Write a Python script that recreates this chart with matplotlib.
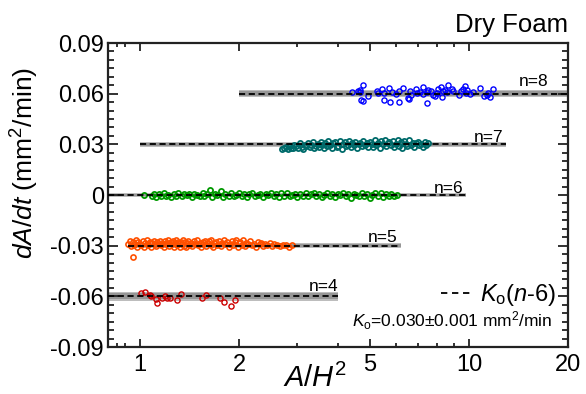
import matplotlib
matplotlib.use("Agg")
import matplotlib.pyplot as plt
from matplotlib.lines import Line2D
from matplotlib.ticker import FixedLocator, NullFormatter

plt.rcParams['font.family'] = ['Liberation Sans', 'DejaVu Sans']
plt.rcParams['mathtext.fontset'] = 'custom'
plt.rcParams['mathtext.rm'] = 'Liberation Sans'
plt.rcParams['mathtext.it'] = 'Liberation Sans:italic'
plt.rcParams['mathtext.bf'] = 'Liberation Sans:bold'

# ---- data ----
K0 = 0.030
n_values = [4, 5, 6, 7, 8]
band_xmin = [0.8, 0.92, 0.8, 1.0, 2.0]
band_xmax = [4.0, 6.2, 9.8, 13.0, 20.0]
band_half = [0.0027, 0.0014, 0.0010, 0.0014, 0.0021]
label_x = [4.0, 6.05, 9.65, 12.7, 17.4]
label_dy = [0.0031, 0.0020, 0.0014, 0.0016, 0.0043]
colors = ['#cc0000', '#ff5000', '#009900', '#006b6b', '#0000ff']

# n=4 (red)
n4_x = [1.005, 1.040, 1.073, 1.078, 1.116, 1.129, 1.169, 1.191, 1.211, 1.233,
        1.298, 1.329, 1.546, 1.593, 1.748, 1.806, 1.897, 1.951]
n4_y = [-0.0580, -0.0576, -0.0590, -0.0600, -0.0616, -0.0639, -0.0610, -0.0596,
        -0.0610, -0.0610, -0.0620, -0.0584, -0.0610, -0.0594, -0.0610, -0.0633,
        -0.0655, -0.0620]

# n=5 (orange): deviations from -0.03 in units of 0.001
n5_x = [0.92, 0.93, 0.94, 0.95, 0.96, 0.97, 0.98, 0.99, 1.00, 1.01,
        1.02, 1.03, 1.04, 1.05, 1.06, 1.07, 1.08, 1.09, 1.10, 1.11,
        1.12, 1.13, 1.14, 1.15, 1.16, 1.17, 1.18, 1.19, 1.20, 1.21,
        1.22, 1.23, 1.24, 1.25, 1.26, 1.27, 1.28, 1.29, 1.30, 1.31,
        1.32, 1.33, 1.34, 1.35, 1.36, 1.37, 1.38, 1.39, 1.40, 1.41,
        1.43, 1.44, 1.46, 1.47, 1.49, 1.50, 1.52, 1.53, 1.55, 1.56,
        1.58, 1.59, 1.61, 1.62, 1.64, 1.65, 1.67, 1.68, 1.70, 1.72,
        1.74, 1.76, 1.78, 1.80, 1.82, 1.84, 1.86, 1.88, 1.90, 1.92,
        1.94, 1.96, 1.98, 2.00, 2.02, 2.04, 2.06, 2.08, 2.10, 2.13,
        2.16, 2.19, 2.22, 2.25, 2.28, 2.31, 2.34, 2.37, 2.40, 2.44,
        2.48, 2.52, 2.56, 2.61, 2.66, 2.72, 2.78, 2.84, 2.90, 0.95]
n5_dev = [1.2, 2.8, -0.4, 1.9, 0.6, 3.2, -0.8, 2.1, 1.0, 0.2,
          2.5, -0.6, 1.6, 3.4, 0.4, 2.0, -0.9, 1.3, 2.9, 0.8,
          -0.3, 2.3, 1.1, 3.0, 0.1, 1.8, -0.7, 2.6, 0.9, 1.5,
          3.3, -0.2, 2.0, 0.7, 2.7, -0.8, 1.4, 3.1, 0.3, 1.9,
          -0.5, 2.4, 1.2, 3.5, 0.0, 2.2, -0.9, 1.6, 2.9, 0.5,
          1.8, -0.4, 2.6, 1.0, 3.2, 0.2, 1.7, -0.7, 2.3, 0.9,
          3.0, -0.1, 1.5, 2.5, 0.4, 3.4, -0.6, 1.3, 2.1, 0.6,
          2.8, -0.3, 1.6, 3.3, 0.8, 2.0, -0.8, 1.1, 2.7, 0.2,
          1.9, 3.1, -0.5, 1.4, 2.4, 0.5, 3.5, -0.2, 1.8, 0.9,
          2.6, 0.1, 1.2, -0.6, 2.2, 0.7, 1.6, -0.3, 1.0, 0.4,
          1.5, -0.4, 0.8, 0.3, -0.2, 0.6, 0.1, -0.5, 0.4, -6.9]

# n=6 (green): deviations from 0 in units of 0.001
n6_x = [1.03, 1.09, 1.10, 1.12, 1.14, 1.16, 1.18, 1.20, 1.22, 1.24,
        1.27, 1.29, 1.31, 1.34, 1.36, 1.39, 1.41, 1.44, 1.46, 1.49,
        1.52, 1.55, 1.57, 1.60, 1.63, 1.66, 1.69, 1.72, 1.76, 1.79,
        1.82, 1.86, 1.89, 1.93, 1.96, 2.00, 2.04, 2.07, 2.11, 2.15,
        2.19, 2.23, 2.28, 2.32, 2.36, 2.41, 2.45, 2.50, 2.55, 2.59,
        2.64, 2.69, 2.74, 2.80, 2.85, 2.90, 2.96, 3.01, 3.07, 3.13,
        3.19, 3.25, 3.31, 3.37, 3.44, 3.50, 3.57, 3.63, 3.70, 3.77,
        3.84, 3.92, 3.99, 4.07, 4.14, 4.22, 4.30, 4.38, 4.47, 4.55,
        4.64, 4.72, 4.81, 4.90, 5.00, 5.09, 5.19, 5.29, 5.39, 5.49,
        5.59, 5.70, 5.81, 5.92, 6.03]
n6_dev = [0.0, -0.6, 0.4, -0.9, 0.7, -0.3, 0.9, -0.7, 0.2, -1.0,
          0.6, -0.4, 1.0, -0.8, 0.3, -0.2, 0.8, -1.1, 0.5, 0.1,
          -0.6, 1.1, -0.3, 0.7, 2.8, -0.9, 0.4, -0.1, 2.6, -1.3,
          0.5, -0.5, 0.9, -0.8, 0.2, 1.2, -0.4, 0.6, -1.0, 0.3,
          1.0, -0.7, 0.1, 0.8, -1.2, 0.5, -0.2, 1.3, -0.6, 0.4,
          -0.9, 0.9, -0.3, 1.1, -0.7, 0.2, 0.7, -1.1, 0.5, -0.4,
          1.0, -0.8, 0.3, 1.4, -0.5, 0.6, -1.3, 0.1, 0.9, -0.6,
          0.4, -1.0, 0.8, -0.2, 1.2, -0.7, 0.3, -1.5, 0.6, 0.0,
          -0.8, 1.0, -0.4, 0.7, -1.7, 0.2, 0.9, -0.5, 1.1, -0.9,
          0.4, -0.3, 0.8, -0.6, 0.2]

# n=7 (teal): deviations from 0.03 in units of 0.001
n7_x = [2.70, 2.74, 2.78, 2.82, 2.86, 2.88, 2.92, 2.95, 2.99, 3.02,
        3.06, 3.10, 3.13, 3.17, 3.20, 3.24, 3.28, 3.31, 3.35, 3.39,
        3.43, 3.47, 3.50, 3.54, 3.58, 3.62, 3.66, 3.70, 3.74, 3.79,
        3.83, 3.87, 3.92, 3.96, 4.01, 4.05, 4.10, 4.14, 4.19, 4.23,
        4.28, 4.33, 4.38, 4.42, 4.47, 4.52, 4.57, 4.62, 4.68, 4.73,
        4.78, 4.84, 4.89, 4.95, 5.00, 5.06, 5.12, 5.17, 5.23, 5.29,
        5.35, 5.41, 5.47, 5.54, 5.60, 5.66, 5.73, 5.79, 5.86, 5.93,
        6.00, 6.07, 6.14, 6.21, 6.28, 6.35, 6.43, 6.50, 6.58, 6.66,
        6.74, 6.82, 6.90, 6.98, 7.06, 7.15, 7.24, 7.33, 7.42, 7.50]
n7_dev = [-2.8, -2.2, -1.5, -2.6, -0.8, -1.9, -2.4, -0.5, -1.2, -2.0,
          0.6, -1.4, -2.7, -0.2, -1.0, 0.9, -1.8, -0.6, 1.2, -2.3,
          -0.9, 0.4, -1.6, 1.5, -0.3, -2.1, 0.8, -1.1, 1.8, -0.4,
          -1.9, 0.5, 1.1, -1.3, -0.7, 2.0, -2.5, 0.2, 1.4, -1.0,
          -0.1, 1.9, -1.7, 0.7, -0.5, 1.6, -2.2, 0.3, 1.0, -1.2,
          2.2, -0.6, 0.9, -1.8, 1.3, 0.1, -1.4, 2.4, -0.2, 0.6,
          -2.0, 1.7, 0.0, 2.6, -1.1, 0.8, 1.5, -0.4, 2.1, -1.5,
          0.4, 2.8, -0.8, 1.2, -2.4, 1.9, 0.2, -0.9, 2.3, -0.3,
          1.0, -1.7, 0.7, 1.6, -0.6, 0.3, -1.3, 1.1, -0.2, 0.5]

# n=8 (blue)
n8_x = [4.41, 4.60, 4.65, 4.67, 4.78, 4.95, 4.71, 4.75, 5.25, 5.31,
        5.44, 5.50, 5.53, 5.70, 5.76, 5.83, 6.01, 6.15, 6.11, 6.30,
        6.51, 6.58, 6.63, 6.66, 6.91, 6.97, 7.11, 7.24, 7.27, 7.48,
        7.44, 7.53, 7.67, 7.80, 7.89, 7.99, 8.08, 8.21, 8.27, 8.36,
        8.46, 8.66, 8.56, 8.86, 8.97, 9.35, 9.44, 9.57, 9.73, 9.80,
        9.84, 10.08, 10.27, 10.80, 11.11, 11.32, 11.45, 11.59, 11.80]
n8_y = [0.0608, 0.0614, 0.0620, 0.0608, 0.0651, 0.0584, 0.0565, 0.0559, 0.0614, 0.0604,
        0.0628, 0.0565, 0.0604, 0.0633, 0.0553, 0.0608, 0.0600, 0.0549, 0.0618, 0.0635,
        0.0574, 0.0568, 0.0614, 0.0594, 0.0628, 0.0604, 0.0608, 0.0639, 0.0600, 0.0545,
        0.0608, 0.0624, 0.0614, 0.0594, 0.0584, 0.0604, 0.0628, 0.0639, 0.0578, 0.0614,
        0.0620, 0.0651, 0.0608, 0.0628, 0.0614, 0.0592, 0.0614, 0.0628, 0.0643, 0.0604,
        0.0620, 0.0600, 0.0608, 0.0632, 0.0588, 0.0594, 0.0604, 0.0580, 0.0628]

x_ticks = [1, 2, 5, 10, 20]
x_minor = [0.85, 0.9, 3, 4, 6, 7, 8, 9]
y_ticks = [-0.09, -0.06, -0.03, 0.0, 0.03, 0.06, 0.09]
y_ticklabels = ['-0.09', '-0.06', '-0.03', '0', '0.03', '0.06', '0.09']

# ---- figure ----
fig = plt.figure(figsize=(5.86, 3.94), dpi=100)
ax = fig.add_axes([108/586, 1 - 347/394, 460/586, 304/394])
ax.set_xscale('log')
ax.set_xlim(0.8, 20)
ax.set_ylim(-0.09, 0.09)

series_x = [n4_x, n5_x, n6_x, n7_x, n8_x]
series_y = [n4_y,
            [K0 * (5 - 6) + d * 1e-3 for d in n5_dev],
            [K0 * (6 - 6) + d * 1e-3 for d in n6_dev],
            [K0 * (7 - 6) + d * 1e-3 for d in n7_dev],
            n8_y]
mew = [1.0, 1.2, 1.3, 1.3, 1.0]

for i, n in enumerate(n_values):
    yc = K0 * (n - 6)
    x0, x1 = band_xmin[i], band_xmax[i]
    h = band_half[i]
    ax.fill_between([x0, x1], [yc - h] * 2, [yc + h] * 2, color='#bdbdbd', lw=0, zorder=1)
    ax.fill_between([x0, x1], [yc - 0.65 * h] * 2, [yc + 0.65 * h] * 2, color='#969696', lw=0, zorder=1.1)
    ax.plot(series_x[i], series_y[i], ls='none', marker='o', ms=3.7, mfc='none',
            mec=colors[i], mew=mew[i], zorder=2)
    ax.plot([x0, x1], [yc, yc], color='black', ls=(0, (3.4, 2.0)), lw=1.3, zorder=3)
    ax.text(label_x[i], yc + label_dy[i], f'n={n}', ha='right', va='baseline',
            fontsize=12.5, zorder=4)

# ticks
ax.xaxis.set_major_locator(FixedLocator(x_ticks))
ax.set_xticklabels([str(v) for v in x_ticks])
ax.xaxis.set_minor_locator(FixedLocator(x_minor))
ax.xaxis.set_minor_formatter(NullFormatter())
ax.set_yticks(y_ticks)
ax.set_yticklabels(y_ticklabels)
ax.yaxis.set_minor_locator(FixedLocator([v / 1000 for v in range(-90, 91, 5)]))
ax.tick_params(axis='both', which='both', direction='in', top=True, right=True,
               width=1.3, labelsize=17, colors='#222222', labelcolor='black')
ax.tick_params(axis='x', which='major', length=5.5, pad=5)
ax.tick_params(axis='x', which='minor', length=3)
ax.tick_params(axis='y', which='major', length=7.5, pad=3)
ax.tick_params(axis='y', which='minor', length=4)
for s in ax.spines.values():
    s.set_linewidth(1.6)
    s.set_color('#222222')

ax.set_ylabel(r'$dA/dt$ (mm$^2$/min)', fontsize=19)
ax.yaxis.set_label_coords(-0.145, 0.605)
ax.set_xlabel(r'$A/H^2$', fontsize=21)
ax.xaxis.set_label_coords(0.45, -0.055)

ax.text(1.0, 1.035, 'Dry Foam', transform=ax.transAxes, ha='right', va='baseline', fontsize=18.5)

leg = ax.legend(handles=[Line2D([], [], color='black', ls=(0, (3.5, 2.6)), lw=1.3)],
                labels=[r'$K_\mathrm{o}$($n$-6)'], loc='center right',
                bbox_to_anchor=(0.975, 0.171), frameon=False, fontsize=17,
                handlelength=1.3, handletextpad=0.35, borderpad=0, borderaxespad=0)

ax.text(0.967, 0.085, r'$K_\mathrm{o}$=0.030$\pm$0.001 mm$^2$/min', transform=ax.transAxes,
        ha='right', va='center', fontsize=12.5)

fig.savefig('out.png', dpi=100)
